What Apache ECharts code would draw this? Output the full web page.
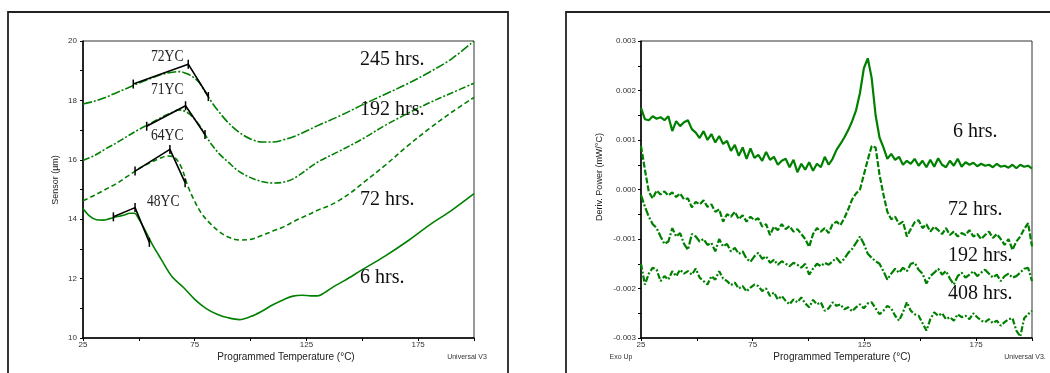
<!DOCTYPE html>
<html><head><meta charset="utf-8">
<script src="https://cdn.jsdelivr.net/npm/echarts/dist/echarts.min.js"></script>
<style>html,body{margin:0;padding:0;background:#fff}#c{width:1050px;height:373px}</style>
</head><body><div id="c"></div>
<script>
// ---------- Left panel: Sensor (µm) vs temperature ----------
const sensor245 = [[25,17.88],[30,17.97],[35,18.1],[40,18.26],[45,18.42],[50,18.58],[55,18.73],[60,18.87],[65,18.95],[68,18.97],[71,18.91],[74,18.8],[77,18.6],[80,18.25],[83,17.9],[86,17.6],[90,17.25],[95,16.92],[100,16.7],[105,16.6],[110,16.6],[115,16.68],[120,16.8],[130,17.15],[140,17.48],[150,17.85],[160,18.2],[170,18.55],[180,18.95],[190,19.4],[200,20.0]];
const sensor192 = [[25,15.98],[30,16.14],[35,16.36],[40,16.57],[45,16.8],[50,17.02],[55,17.22],[60,17.42],[65,17.6],[68,17.68],[71,17.62],[74,17.45],[77,17.17],[80,16.8],[83,16.47],[86,16.2],[90,15.92],[95,15.6],[100,15.4],[105,15.27],[110,15.22],[115,15.25],[120,15.4],[130,15.92],[140,16.3],[150,16.7],[160,17.15],[170,17.55],[180,17.92],[190,18.25],[200,18.58]];
const sensor72 = [[25,14.62],[30,14.8],[35,15.0],[40,15.2],[45,15.45],[50,15.7],[55,15.9],[60,16.07],[63,16.13],[66,16.08],[69,15.75],[72,15.1],[75,14.6],[78,14.2],[82,13.85],[86,13.58],[90,13.4],[95,13.3],[100,13.32],[105,13.45],[110,13.6],[115,13.75],[120,13.95],[125,14.12],[130,14.3],[135,14.45],[140,14.65],[145,14.9],[150,15.2],[160,15.8],[170,16.45],[180,17.05],[190,17.6],[200,18.1]];
const sensor6 = [[25,14.36],[28,14.1],[31,13.98],[34,13.97],[37,14.02],[40,14.08],[43,14.13],[46,14.2],[48,14.2],[50,14.0],[53,13.6],[56,13.15],[60,12.65],[65,12.05],[70,11.7],[75,11.3],[80,11.0],[85,10.8],[90,10.68],[95,10.62],[100,10.72],[105,10.9],[110,11.12],[115,11.3],[119,11.41],[123,11.44],[127,11.42],[130,11.42],[133,11.52],[137,11.72],[142,11.93],[150,12.3],[160,12.75],[170,13.25],[180,13.8],[190,14.3],[200,14.86]];
// onset constructions (tangent lines)
const tangent245 = [[47.5,18.55],[72.1,19.22],[81.1,18.13]];
const tangent192 = [[53.5,17.13],[70.9,17.82],[79.6,16.85]];
const tangent72 = [[48.3,15.62],[63.9,16.35],[70.7,15.23]];
const tangent6 = [[38.6,14.08],[48.3,14.39],[54.7,13.22]];
const onsetLabels = ['72\u03A5C','71\u03A5C','64\u03A5C','48\u03A5C'];
const leftHrsLabels = ['245 hrs.','192 hrs.','72 hrs.','6 hrs.'];

// ---------- Right panel: Deriv. Power (mW/°C), sampled every 1.75 °C from 25 °C ----------
const derivStart = 25, derivStep = 1.75;
const deriv6 = [0.00165,0.00142,0.00140,0.00148,0.00143,0.00146,0.00140,0.00148,0.00118,0.00138,
0.00128,0.00136,0.00140,0.00122,0.00115,0.00104,0.00118,0.00100,0.00112,0.00095,
0.00108,0.00092,0.00098,0.00078,0.00090,0.00068,0.00085,0.00062,0.00083,0.00064,
0.00070,0.00058,0.00076,0.00060,0.00066,0.00050,0.00058,0.00062,0.00045,0.00060,
0.00035,0.00052,0.00040,0.00055,0.00038,0.00052,0.00045,0.00066,0.00050,0.00062,
0.00080,0.00092,0.00105,0.00120,0.00138,0.00160,0.00195,0.00245,0.00265,0.00225,
0.00150,0.00105,0.00085,0.00062,0.00072,0.00060,0.00066,0.00050,0.00058,0.00052,
0.00062,0.00048,0.00058,0.00045,0.00060,0.00046,0.00063,0.00050,0.00045,0.00058,
0.00048,0.00062,0.00046,0.00055,0.00050,0.00054,0.00047,0.00052,0.00048,0.00050,
0.00045,0.00052,0.00046,0.00048,0.00044,0.00050,0.00043,0.00050,0.00046,0.00048,0.00042];
const deriv72 = [0.00088,0.00040,-0.00005,-0.00018,-0.00002,-0.00010,-0.00004,-0.00012,-0.00006,-0.00015,
-0.00008,-0.00020,-0.00018,-0.00036,-0.00025,-0.00030,-0.00022,-0.00035,-0.00030,-0.00045,
-0.00040,-0.00065,-0.00050,-0.00055,-0.00045,-0.00060,-0.00052,-0.00065,-0.00055,-0.00062,
-0.00058,-0.00075,-0.00070,-0.00092,-0.00075,-0.00082,-0.00070,-0.00080,-0.00074,-0.00085,
-0.00080,-0.00090,-0.00100,-0.00116,-0.00090,-0.00078,-0.00085,-0.00078,-0.00088,-0.00070,
-0.00065,-0.00072,-0.00058,-0.00040,-0.00020,-0.00008,0.00000,0.00030,0.00060,0.00088,
0.00085,0.00030,-0.00010,-0.00045,-0.00060,-0.00055,-0.00070,-0.00065,-0.00095,-0.00080,
-0.00066,-0.00062,-0.00078,-0.00070,-0.00085,-0.00075,-0.00082,-0.00090,-0.00078,-0.00092,
-0.00085,-0.00095,-0.00088,-0.00092,-0.00082,-0.00095,-0.00090,-0.00100,-0.00092,-0.00085,
-0.00098,-0.00090,-0.00100,-0.00112,-0.00100,-0.00122,-0.00105,-0.00095,-0.00080,-0.00068,-0.00115];
const deriv192 = [-0.00011,-0.00035,-0.00055,-0.00070,-0.00078,-0.00095,-0.00110,-0.00105,-0.00078,-0.00095,
-0.00088,-0.00110,-0.00122,-0.00090,-0.00095,-0.00105,-0.00100,-0.00112,-0.00108,-0.00125,
-0.00100,-0.00115,-0.00110,-0.00125,-0.00118,-0.00130,-0.00125,-0.00140,-0.00146,-0.00135,
-0.00128,-0.00140,-0.00135,-0.00148,-0.00142,-0.00152,-0.00145,-0.00150,-0.00155,-0.00148,
-0.00152,-0.00158,-0.00150,-0.00172,-0.00160,-0.00150,-0.00155,-0.00148,-0.00152,-0.00145,
-0.00138,-0.00148,-0.00140,-0.00128,-0.00120,-0.00108,-0.00095,-0.00110,-0.00130,-0.00138,
-0.00145,-0.00150,-0.00165,-0.00182,-0.00170,-0.00160,-0.00168,-0.00158,-0.00165,-0.00150,
-0.00148,-0.00162,-0.00170,-0.00190,-0.00175,-0.00168,-0.00160,-0.00172,-0.00165,-0.00180,
-0.00192,-0.00175,-0.00168,-0.00178,-0.00172,-0.00165,-0.00175,-0.00168,-0.00162,-0.00170,
-0.00178,-0.00172,-0.00185,-0.00175,-0.00170,-0.00178,-0.00175,-0.00168,-0.00160,-0.00158,-0.00185];
const deriv408 = [-0.00150,-0.00192,-0.00170,-0.00158,-0.00162,-0.00185,-0.00175,-0.00182,-0.00165,-0.00175,
-0.00162,-0.00170,-0.00165,-0.00172,-0.00160,-0.00178,-0.00185,-0.00192,-0.00175,-0.00182,
-0.00165,-0.00180,-0.00185,-0.00193,-0.00188,-0.00200,-0.00195,-0.00206,-0.00198,-0.00192,
-0.00195,-0.00205,-0.00200,-0.00215,-0.00208,-0.00222,-0.00215,-0.00225,-0.00232,-0.00222,
-0.00228,-0.00218,-0.00230,-0.00238,-0.00223,-0.00232,-0.00228,-0.00245,-0.00240,-0.00228,
-0.00235,-0.00232,-0.00242,-0.00238,-0.00246,-0.00238,-0.00232,-0.00240,-0.00230,-0.00228,
-0.00240,-0.00252,-0.00245,-0.00235,-0.00240,-0.00255,-0.00265,-0.00248,-0.00228,-0.00245,
-0.00252,-0.00255,-0.00270,-0.00285,-0.00262,-0.00248,-0.00255,-0.00250,-0.00262,-0.00258,
-0.00265,-0.00252,-0.00258,-0.00255,-0.00262,-0.00250,-0.00258,-0.00265,-0.00268,-0.00262,
-0.00270,-0.00265,-0.00275,-0.00268,-0.00262,-0.00260,-0.00285,-0.00297,-0.00260,-0.00252,-0.00245];
const rightHrsLabels = ['6 hrs.','72 hrs.','192 hrs.','408 hrs.'];

// x tick labels shown: 25, 75, 125, 175
const xTickLabels = [25, 75, 125, 175];

const GREEN = '#008000';
const sans = 'Liberation Sans, Arial, sans-serif';
const serif = 'Liberation Serif, Times New Roman, serif';
const toPairs = arr => arr.map((v, i) => [derivStart + derivStep * i, v]);

const chart = echarts.init(document.getElementById('c'), null, {renderer: 'canvas'});

function xAxisFor(gi) {
  return {
    gridIndex: gi, type: 'value', min: 25, max: 200, interval: 25,
    axisLine: {onZero: false, lineStyle: {color: '#000', width: 1.5}},
    axisTick: {length: 3, lineStyle: {color: '#000'}},
    axisLabel: {margin: 3, fontSize: 8, fontFamily: sans, color: '#333',
      formatter: v => xTickLabels.indexOf(v) >= 0 ? String(v) : ''},
    splitLine: {show: false}
  };
}

const tickSym = 'path://M0,0L1,0L1,10L0,10Z';
function tangent(data) {
  return {type: 'line', xAxisIndex: 0, yAxisIndex: 0, data, z: 5,
    symbol: tickSym, symbolSize: [1.5, 9], showSymbol: true,
    itemStyle: {color: '#000'}, lineStyle: {color: '#000', width: 1.6}};
}
function leftCurve(data, type) {
  return {type: 'line', xAxisIndex: 0, yAxisIndex: 0, data, smooth: 0.35, showSymbol: false,
    lineStyle: {color: GREEN, width: 1.6, type}};
}
function rightCurve(values, type) {
  return {type: 'line', xAxisIndex: 1, yAxisIndex: 1, data: toPairs(values), showSymbol: false,
    lineStyle: {color: GREEN, width: 2.2, type}};
}

const graphics = [
  {type: 'rect', shape: {x: 8, y: 12, width: 500, height: 380}, style: {fill: 'none', stroke: '#222', lineWidth: 1.8}, z: 0},
  {type: 'rect', shape: {x: 566, y: 12, width: 500, height: 380}, style: {fill: 'none', stroke: '#222', lineWidth: 1.8}, z: 0},
  // axis names
  {type: 'text', x: 286, y: 357, z: 100, style: {text: 'Programmed Temperature (°C)', font: '10px ' + sans, fill: '#222', textAlign: 'center', textVerticalAlign: 'middle'}},
  {type: 'text', x: 842, y: 357, z: 100, style: {text: 'Programmed Temperature (°C)', font: '10px ' + sans, fill: '#222', textAlign: 'center', textVerticalAlign: 'middle'}},
  {type: 'text', x: 56, y: 180, rotation: Math.PI / 2, z: 100, style: {text: 'Sensor (µm)', font: '9px ' + sans, fill: '#222', textAlign: 'center', textVerticalAlign: 'middle'}},
  {type: 'text', x: 600, y: 177, rotation: Math.PI / 2, z: 100, style: {text: 'Deriv. Power (mW/°C)', font: '9px ' + sans, fill: '#222', textAlign: 'center', textVerticalAlign: 'middle'}},
  {type: 'text', x: 467, y: 357, z: 100, style: {text: 'Universal V3', font: '7px ' + sans, fill: '#333', textAlign: 'center', textVerticalAlign: 'middle'}},
  {type: 'text', x: 1025, y: 357, z: 100, style: {text: 'Universal V3.', font: '7px ' + sans, fill: '#333', textAlign: 'center', textVerticalAlign: 'middle'}},
  {type: 'text', x: 621, y: 357, z: 100, style: {text: 'Exo Up', font: '7px ' + sans, fill: '#333', textAlign: 'center', textVerticalAlign: 'middle'}}
];
// onset temperature labels
[[151, 57], [151, 90], [151, 136], [147, 202]].forEach((p, i) => {
  graphics.push({type: 'text', x: p[0], y: p[1], scaleX: 0.85, z: 100,
    style: {text: onsetLabels[i], font: '16px ' + serif, fill: '#222', textAlign: 'left', textVerticalAlign: 'middle'}});
});
[[360, 60], [360, 110], [360, 200], [360, 278]].forEach((p, i) => {
  graphics.push({type: 'text', x: p[0], y: p[1], z: 100,
    style: {text: leftHrsLabels[i], font: '20px ' + serif, fill: '#111', textAlign: 'left', textVerticalAlign: 'middle'}});
});
[[953, 132], [948, 210], [948, 256], [948, 294]].forEach((p, i) => {
  graphics.push({type: 'text', x: p[0], y: p[1], z: 100,
    style: {text: rightHrsLabels[i], font: '20px ' + serif, fill: '#111', textAlign: 'left', textVerticalAlign: 'middle'}});
});

const option = {
  animation: false,
  backgroundColor: '#fff',
  grid: [
    {left: 83, top: 41, width: 391, height: 297, show: true, borderColor: '#333', borderWidth: 1},
    {left: 641, top: 41, width: 391, height: 297, show: true, borderColor: '#333', borderWidth: 1}
  ],
  xAxis: [xAxisFor(0), xAxisFor(1)],
  yAxis: [
    {gridIndex: 0, type: 'value', min: 10, max: 20, interval: 1,
      axisLine: {show: true, onZero: false, lineStyle: {color: '#000', width: 1.5}},
      axisTick: {show: true, length: 3, lineStyle: {color: '#000'}},
      axisLabel: {margin: 6, fontSize: 8, fontFamily: sans, color: '#333', formatter: v => (v % 2 === 0 ? String(v) : '')},
      splitLine: {show: false}},
    {gridIndex: 1, type: 'value', min: -0.003, max: 0.003, interval: 0.0005,
      axisLine: {show: true, onZero: false, lineStyle: {color: '#000', width: 1.5}},
      axisTick: {show: true, length: 3, lineStyle: {color: '#000'}},
      axisLabel: {margin: 5, fontSize: 8, fontFamily: sans, color: '#333', formatter: v => {
        const k = Math.round(v / 0.0005);
        if (k % 2 !== 0) return '';
        return (k / 2 * 0.001).toFixed(3);
      }},
      splitLine: {show: false}}
  ],
  series: [
    leftCurve(sensor245, [9, 2, 2, 2]),
    leftCurve(sensor192, [7, 2, 2, 2]),
    leftCurve(sensor72, [5, 3]),
    leftCurve(sensor6, 'solid'),
    tangent(tangent245), tangent(tangent192), tangent(tangent72), tangent(tangent6),
    rightCurve(deriv6, 'solid'),
    rightCurve(deriv72, [6, 2]),
    rightCurve(deriv192, [8, 2, 2, 2]),
    rightCurve(deriv408, [6, 2, 2, 2])
  ],
  graphic: graphics
};
chart.setOption(option);
</script></body></html>
